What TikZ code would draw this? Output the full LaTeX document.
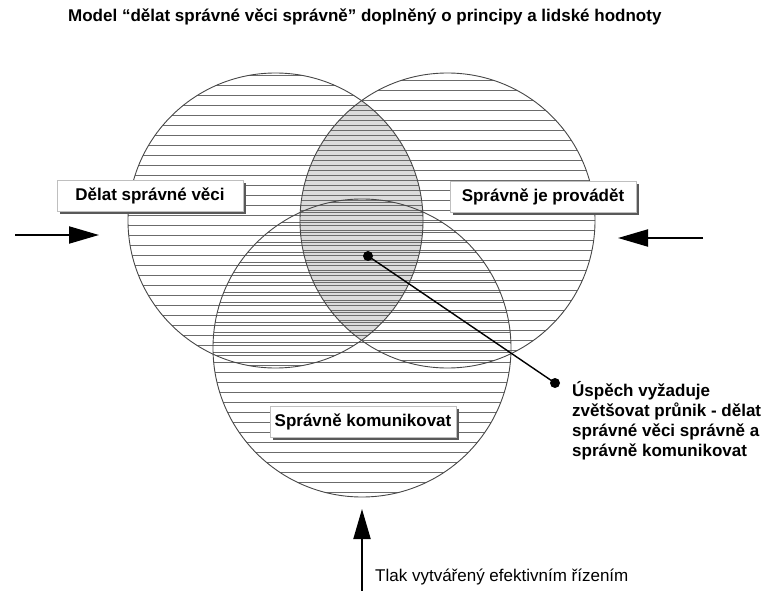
\documentclass[tikz,border=0pt]{standalone}
\usepackage{fontspec}
\setmainfont{Liberation Sans}
\usetikzlibrary{arrows.meta,shadows}
\begin{document}
\begin{tikzpicture}[x=1pt,y=-1pt,
  ring/.style={draw=black!72,line width=0.9pt},
  hatch/.style={draw=black!58,line width=0.75pt},
  lensfill/.style={fill=black!14},
  lbl/.style={fill=white,draw=black!25,line width=0.4pt,
    font=\bfseries\fontsize{17}{20}\selectfont,
    minimum width=186pt,minimum height=31pt,inner sep=0pt,
    drop shadow={shadow xshift=2.5pt,shadow yshift=-2.5pt,fill=black!65,opacity=1}},
  dotnode/.style={circle,fill=black,inner sep=0pt,minimum size=10pt},
  push/.style={line width=2pt,-{Triangle[length=30pt,width=17pt]}},
  ttl/.style={font=\bfseries\fontsize{17}{20}\selectfont,inner sep=0pt},
  note/.style={font=\bfseries\fontsize{17}{20}\selectfont,align=left,inner sep=0pt},
  plain/.style={font=\fontsize{17}{20}\selectfont,inner sep=0pt}]
\useasboundingbox (0,0) rectangle (766,591);

\coordinate (L) at (275.5,220.5);
\coordinate (R) at (447.5,220.5);
\coordinate (B) at (362,348);
\def\rr{147.5pt}
\def\rb{149pt}

% lens shading
\begin{scope}
  \clip (L) circle[radius=\rr];
  \fill[lensfill] (R) circle[radius=\rr];
\end{scope}

% hatching
\begin{scope}
  \clip (L) circle[radius=\rr];
  \foreach \y in {75,85,...,370} \draw[hatch] (120,\y) -- (430,\y);
\end{scope}
\begin{scope}
  \clip (R) circle[radius=\rr];
  \foreach \y in {80,90,...,370} \draw[hatch] (290,\y) -- (600,\y);
\end{scope}
\begin{scope}
  \clip (B) circle[radius=\rb];
  \foreach \y in {200,210,...,500} \draw[hatch] (205,\y+2.5) -- (520,\y+2.5);
\end{scope}

% outlines
\draw[ring] (L) circle[radius=\rr];
\draw[ring] (R) circle[radius=\rr];
\draw[ring] (B) circle[radius=\rb];

% title
\node[ttl,anchor=west] (title) at (68,17) {Model “dělat správné věci správně” doplněný o principy a lidské hodnoty};

% labels
\node[lbl] (dv) at (150,196) {Dělat správné věci};
\node[lbl] (sp) at (543,197) {Správně je provádět};
\node[lbl] (sk) at (363,422) {Správně komunikovat};

% connector
\node[dotnode] (c) at (368,256) {};
\node[dotnode] (o) at (555,383) {};
\draw[line width=1.4pt] (c.center) -- (o.center);
\node[note,anchor=north west] (txt) at (572,381) {Úspěch vyžaduje\\zvětšovat průnik - dělat\\správné věci správně a\\správně komunikovat};

% arrows
\coordinate (la0) at (15,235);
\coordinate (la1) at (99,235);
\coordinate (ra0) at (703,238);
\coordinate (ra1) at (618,238);
\coordinate (ba0) at (362,591);
\coordinate (ba1) at (362,509);
\draw[push] (la0) -- (la1);
\draw[push] (ra0) -- (ra1);
\draw[push] (ba0) -- (ba1);

\node[plain,anchor=west] (tlak) at (375,577) {Tlak vytvářený efektivním řízením};
\end{tikzpicture}
\end{document}
